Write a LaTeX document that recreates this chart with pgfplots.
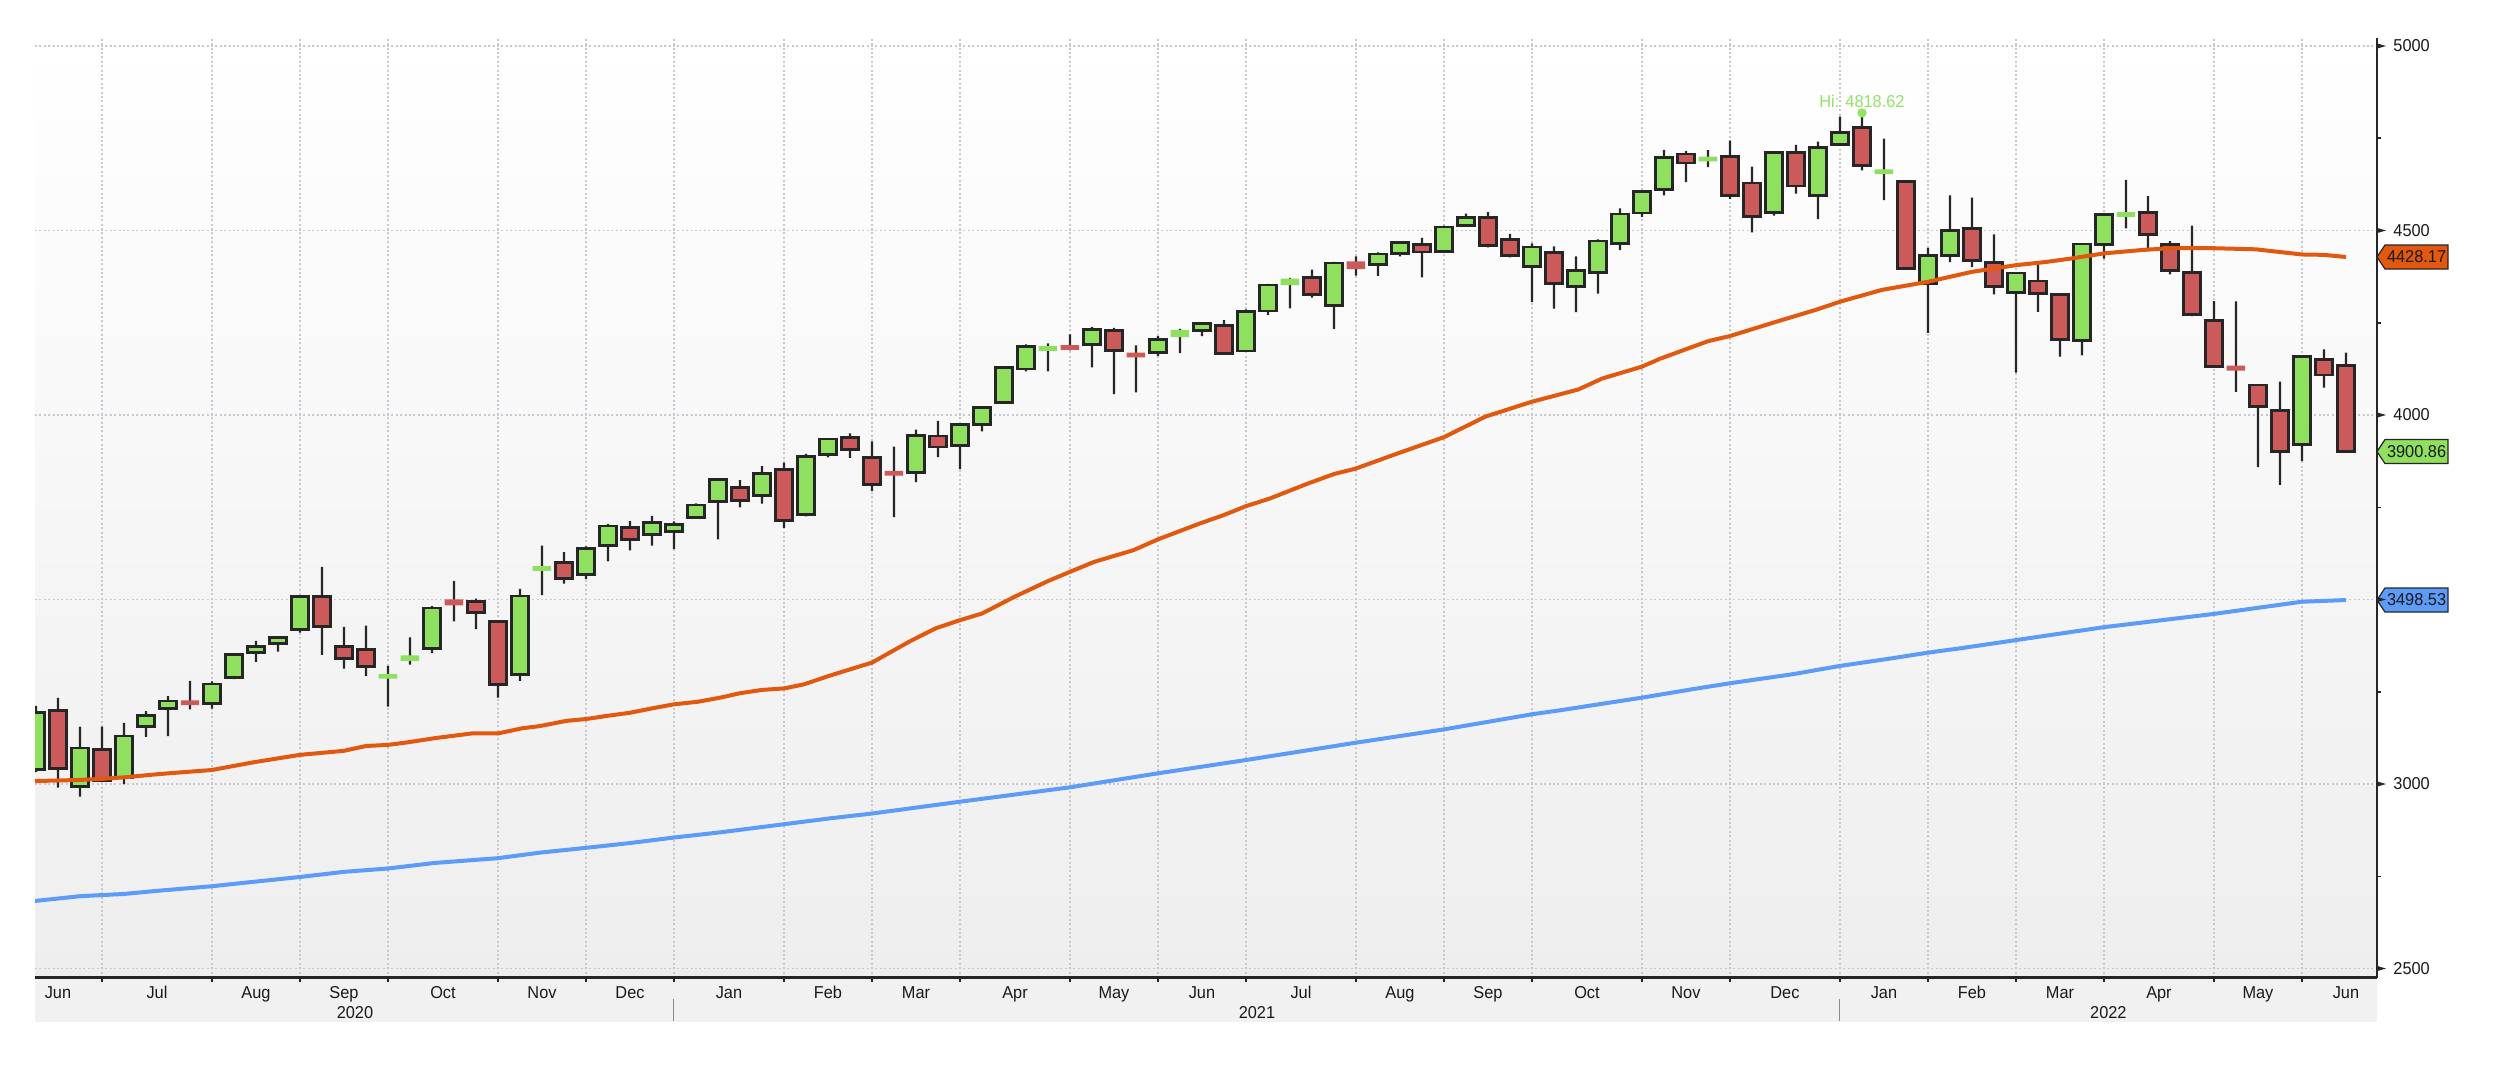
\documentclass[border=0pt]{standalone}
\usepackage{pgfplots}
\pgfplotsset{compat=1.18}
\usepackage{pgfplotstable}
\usepackage{fontspec}
\setmainfont{Liberation Sans}
\newfontfamily\lblfont{Liberation Sans}[FakeStretch=0.95]
\newcommand\lbl{\lblfont\fontsize{8.6pt}{10pt}\selectfont}

\definecolor{upc}{RGB}{142,224,94}
\definecolor{dnc}{RGB}{205,90,90}
\definecolor{olc}{RGB}{38,38,38}
\definecolor{maA}{RGB}{226,88,14}
\definecolor{maB}{RGB}{92,156,248}
\definecolor{gridc}{RGB}{198,200,212}
\definecolor{bgbot}{RGB}{238,238,238}
\definecolor{strip}{RGB}{241,241,241}
\definecolor{txt}{RGB}{25,25,25}
\definecolor{hic}{RGB}{146,226,100}

\pgfdeclareplotmark{rtri}{%
  \pgfpathmoveto{\pgfpoint{0pt}{1.3pt}}%
  \pgfpathlineto{\pgfpoint{4.5pt}{0pt}}%
  \pgfpathlineto{\pgfpoint{0pt}{-1.3pt}}%
  \pgfpathclose\pgfusepathqfill}

\tikzset{vbox/.style={draw=black!85, line width=0.6pt}}

% weekly candles: i O H L C type (1 up box, 2 down box, 3 up doji, 4 down doji)
\pgfplotstableread{
i O H L C t
0 3038.78 3211.72 3032.00 3193.93 1
1 3199.92 3233.13 2990.00 3041.31 2
2 2993.76 3155.53 2965.66 3097.74 1
3 3094.42 3155.29 3007.41 3009.05 2
4 3018.59 3165.81 2999.74 3130.01 1
5 3155.29 3197.52 3127.66 3185.04 1
6 3205.08 3238.28 3130.00 3224.73 1
7 3224.21 3279.32 3202.00 3215.63 4
8 3218.58 3278.00 3204.00 3271.12 1
9 3288.26 3352.54 3284.53 3351.28 1
10 3356.04 3387.89 3331.00 3372.85 1
11 3380.86 3399.96 3359.00 3397.16 1
12 3418.09 3509.44 3410.00 3508.01 1
13 3507.44 3588.11 3349.63 3426.96 2
14 3371.88 3425.55 3313.00 3340.97 2
15 3363.56 3428.92 3292.40 3319.47 2
16 3285.57 3320.31 3209.45 3298.46 3
17 3333.90 3397.18 3323.69 3348.44 3
18 3367.27 3482.34 3354.69 3477.14 1
19 3500.02 3549.85 3440.45 3483.81 4
20 3493.50 3502.42 3419.93 3465.39 2
21 3441.42 3441.42 3233.94 3269.96 2
22 3296.20 3529.05 3279.74 3509.44 1
23 3583.04 3645.99 3511.91 3585.15 3
24 3600.16 3628.51 3543.00 3557.54 2
25 3566.82 3644.31 3555.00 3638.35 1
26 3645.87 3705.00 3603.00 3699.12 1
27 3694.73 3712.39 3633.40 3663.46 2
28 3675.27 3726.70 3645.84 3709.41 1
29 3684.28 3712.00 3636.48 3703.06 1
30 3723.03 3760.20 3720.00 3756.07 1
31 3764.61 3826.69 3662.71 3824.68 1
32 3803.14 3823.60 3749.63 3768.25 2
33 3781.88 3861.45 3760.00 3841.47 1
34 3851.68 3870.90 3694.12 3714.24 2
35 3731.17 3894.56 3725.00 3886.83 1
36 3892.59 3937.23 3884.94 3934.83 1
37 3939.61 3950.43 3884.06 3906.71 2
38 3885.55 3928.65 3794.00 3811.15 2
39 3842.51 3914.50 3723.34 3841.94 4
40 3844.39 3960.27 3818.00 3943.34 1
41 3942.96 3983.87 3886.00 3913.10 2
42 3916.48 3978.19 3853.50 3974.54 1
43 3974.00 4020.63 3955.31 4019.87 1
44 4034.44 4129.48 4034.00 4128.80 1
45 4124.71 4191.31 4118.00 4185.47 1
46 4179.80 4194.17 4118.38 4180.17 3
47 4185.14 4218.78 4175.00 4181.17 4
48 4191.98 4238.04 4129.00 4232.60 1
49 4228.29 4236.39 4056.88 4173.85 2
50 4169.14 4188.72 4061.41 4155.86 4
51 4168.61 4213.42 4160.00 4204.11 1
52 4210.77 4233.45 4167.59 4229.89 3
53 4229.34 4249.74 4214.00 4247.44 1
54 4242.90 4257.16 4164.40 4166.45 2
55 4173.40 4286.12 4173.00 4280.70 1
56 4282.00 4355.43 4271.00 4352.34 1
57 4352.00 4371.60 4289.00 4369.55 3
58 4372.41 4393.68 4318.00 4327.16 2
59 4296.40 4415.18 4233.13 4411.79 1
60 4416.38 4429.97 4378.00 4395.26 4
61 4406.86 4440.82 4377.00 4436.52 1
62 4437.77 4468.73 4430.00 4468.00 1
63 4461.65 4479.71 4373.00 4441.67 2
64 4442.00 4513.00 4440.00 4509.37 1
65 4513.76 4545.85 4513.00 4535.43 1
66 4535.38 4549.78 4454.00 4458.58 2
67 4474.81 4491.00 4427.00 4432.99 2
68 4402.95 4465.40 4305.91 4455.48 1
69 4440.39 4457.30 4288.52 4357.04 2
70 4348.84 4429.97 4278.94 4391.34 1
71 4385.44 4475.82 4329.00 4471.37 1
72 4463.72 4559.67 4447.00 4544.90 1
73 4547.44 4608.08 4537.00 4605.38 1
74 4610.62 4718.50 4595.06 4697.53 1
75 4707.25 4714.92 4630.86 4682.85 2
76 4689.30 4717.75 4672.00 4697.96 3
77 4700.72 4743.83 4585.43 4594.62 2
78 4628.75 4672.95 4495.12 4538.43 2
79 4548.37 4713.57 4540.00 4712.02 1
80 4710.30 4731.99 4600.22 4620.64 2
81 4594.00 4740.74 4531.10 4725.79 1
82 4733.99 4808.93 4733.00 4766.18 1
83 4778.14 4818.62 4662.74 4677.03 2
84 4655.34 4748.83 4582.24 4662.85 3
85 4632.24 4632.24 4395.34 4397.94 2
86 4356.32 4453.23 4222.62 4431.85 1
87 4431.79 4595.31 4414.00 4500.53 1
88 4505.75 4588.92 4401.00 4418.64 2
89 4412.61 4489.55 4327.22 4348.87 2
90 4332.74 4385.00 4114.65 4384.65 1
91 4363.14 4416.78 4279.54 4328.87 2
92 4327.01 4327.01 4157.87 4204.31 2
93 4202.75 4465.40 4161.72 4463.12 1
94 4462.40 4546.03 4424.00 4543.06 1
95 4540.32 4637.30 4506.00 4545.86 3
96 4547.97 4593.45 4450.04 4488.28 2
97 4462.64 4471.00 4381.34 4392.59 2
98 4385.63 4512.94 4267.62 4271.78 2
99 4255.34 4308.45 4128.00 4131.93 2
100 4130.61 4307.66 4062.51 4123.34 4
101 4081.27 4081.27 3858.87 4023.89 2
102 4013.02 4090.72 3810.32 3901.36 2
103 3919.42 4158.49 3875.13 4158.24 1
104 4151.09 4177.51 4074.37 4108.54 2
105 4134.72 4168.78 3900.16 3900.86 2
}\candles

% 50-week moving average
\pgfplotstableread{
x y
-0.05 3008
2 3011
3 3014
4 3018
5.6 3027
8 3038
9.9 3059
12 3079
14 3090
15 3103
16 3106
16.9 3113
18.1 3124
19.8 3137
21 3137
22.1 3151
22.9 3157
24.1 3171
25 3176
26 3185
27 3193
28 3205
29 3216
30.1 3223
31.1 3234
32 3246
33 3255
34 3259
34.9 3270
36.1 3294
38 3329
39.7 3386
40.9 3422
42 3444
43 3462
44.5 3508
46 3550
47 3575
48.1 3602
49.9 3634
51 3663
52.9 3706
54 3729
55 3753
56.1 3774
57.8 3814
59 3840
60 3855
61.9 3896
64 3940
65.9 3996
68 4036
70.1 4069
71.2 4099
73 4131
73.8 4152
76 4200
77 4214
78.9 4249
80.9 4285
82 4307
83.9 4339
86 4361
88 4388
90 4406
91.4 4415
92.5 4424
94 4438
95.7 4447
97 4452
99 4452
100.9 4449
103 4435
104 4434
105 4428.17
}\maFifty

% 200-week moving average
\pgfplotstableread{
x y
-0.05 2683
2 2696
4 2702
5.6 2711
8 2723
9.9 2735
12 2748
14 2762
16 2771
18.1 2786
21 2799
22.9 2814
25 2827
27 2840
29 2855
31.1 2869
34 2891
36.1 2907
38 2920
42 2952
47 2991
51 3029
55 3065
60 3112
64 3148
68 3189
69.3 3200
73 3234
75.3 3257
77 3273
79.9 3298
82 3320
84.4 3341
86 3356
87.5 3368
90 3390
94 3425
99 3461
103 3494
105 3498.53
}\maTwoHundred

\pgfplotsset{
  base/.style={at={(17.5pt,57pt)}, anchor=south west, scale only axis,
    width=1171pt, height=470pt,
    xmin=-0.045, xmax=106.41, ymin=2474.3, ymax=5021.7, enlargelimits=false},
  over/.style={base, hide axis},
}

\begin{document}
\begin{tikzpicture}
\fill[white] (0,0) rectangle (1250pt,546pt);
\shade[top color=white, bottom color=bgbot] (17.5pt,57pt) rectangle (1188.5pt,527pt);
\fill[strip] (17.5pt,35pt) rectangle (1188.5pt,57pt);

% ---- main axis: grid, ticks, labels
\begin{axis}[base, clip=false,
  axis x line*=bottom, axis y line*=right,
  x axis line style={-, line width=1.5pt, draw=olc},
  y axis line style={-, line width=0.75pt, draw=olc},
  xtick={3,8,12,16,21,25,29,34,38,42,47,51,55,60,64,68,73,77,82,86,90,94,99,103},
  xticklabels={},
  ytick={2500,3000,3500,4000,4500,5000},
  yticklabels={2500,3000,,4000,4500,5000},
  minor ytick={2750,3250,3750,4250,4750},
  tick align=outside, major tick length=2pt, minor tick length=2pt,
  tick style={draw=olc, line width=0.75pt},
  yticklabel style={font=\lbl, text=txt, anchor=west, xshift=2.7pt},
  grid=major,
  major grid style={draw=gridc, line width=0.75pt, dash pattern=on 1pt off 1.2pt},
  extra x ticks={1,5.5,10,14,18.5,23,27,31.5,36,40,44.5,49,53,57.5,62,66,70.5,75,79.5,84,88,92,96.5,101,105},
  extra x tick labels={Jun,Jul,Aug,Sep,Oct,Nov,Dec,Jan,Feb,Mar,Apr,May,Jun,Jul,Aug,Sep,Oct,Nov,Dec,Jan,Feb,Mar,Apr,May,Jun},
  extra x tick style={major tick length=0pt, grid=none,
     tick label style={font=\lbl, text=txt, anchor=base, yshift=-10pt}},
]
\addplot[only marks, mark=rtri, olc] coordinates {(106.41,2500) (106.41,3000) (106.41,3500) (106.41,4000) (106.41,4500) (106.41,5000)};

\node[font=\lbl, text=txt, anchor=base] at ([yshift=-20pt]axis cs:14.5,2474.3) {2020};
\node[font=\lbl, text=txt, anchor=base] at ([yshift=-20pt]axis cs:55.5,2474.3) {2021};
\node[font=\lbl, text=txt, anchor=base] at ([yshift=-20pt]axis cs:94.2,2474.3) {2022};
\draw[black!45, line width=0.5pt] ([yshift=-10.5pt]axis cs:29,2474.3) -- ([yshift=-21.5pt]axis cs:29,2474.3);
\draw[black!45, line width=0.5pt] ([yshift=-10.5pt]axis cs:82,2474.3) -- ([yshift=-21.5pt]axis cs:82,2474.3);

% last-value boxes
\draw[vbox, fill=maA] (axis cs:106.41,4428.17) -- ++(4pt,6pt) -- ++(31.5pt,0pt) -- ++(0pt,-12pt) -- ++(-31.5pt,0pt) -- cycle;
\node[font=\lbl, text=txt] at ([xshift=19.8pt]axis cs:106.41,4428.17) {4428.17};
\draw[vbox, fill=upc] (axis cs:106.41,3900.86) -- ++(4pt,6pt) -- ++(31.5pt,0pt) -- ++(0pt,-12pt) -- ++(-31.5pt,0pt) -- cycle;
\node[font=\lbl, text=txt] at ([xshift=19.8pt]axis cs:106.41,3900.86) {3900.86};
\draw[vbox, fill=maB] (axis cs:106.41,3498.53) -- ++(4pt,6pt) -- ++(31.5pt,0pt) -- ++(0pt,-12pt) -- ++(-31.5pt,0pt) -- cycle;
\node[font=\lbl, text=txt] at ([xshift=19.8pt]axis cs:106.41,3498.53) {3498.53};

\node[font=\lbl, text=hic, anchor=base] at (axis cs:83,4832) {Hi: 4818.62};
\end{axis}

% ---- wicks
\begin{axis}[over, ybar stacked, bar width=1.2pt]
\addplot[draw=none, fill=none] table[x=i, y=L] {\candles};
\addplot[draw=none, fill=olc] table[x=i, y expr={\thisrow{H}-\thisrow{L}}] {\candles};
\end{axis}

% ---- outlined bodies
\begin{axis}[over, ybar stacked, bar width=0.8]
\addplot[draw=none, fill=none] table[x=i, y expr={\thisrow{t}<2.5 ? min(\thisrow{O},\thisrow{C}) : 0}] {\candles};
\addplot[draw=olc, line width=1.4pt, fill=upc] table[x=i, y expr={\thisrow{t}==1 ? abs(\thisrow{C}-\thisrow{O}) : 0}] {\candles};
\addplot[draw=olc, line width=1.4pt, fill=dnc] table[x=i, y expr={\thisrow{t}==2 ? abs(\thisrow{C}-\thisrow{O}) : 0}] {\candles};
\end{axis}

% ---- doji dashes
\begin{axis}[over, ybar stacked, bar width=0.84]
\addplot[draw=none, fill=none] table[x=i, y expr={\thisrow{t}>2.5 ? 0.5*(\thisrow{O}+\thisrow{C})-0.5*max(abs(\thisrow{C}-\thisrow{O}),13) : 0}] {\candles};
\addplot[draw=none, fill=upc] table[x=i, y expr={\thisrow{t}==3 ? max(abs(\thisrow{C}-\thisrow{O}),13) : 0}] {\candles};
\addplot[draw=none, fill=dnc] table[x=i, y expr={\thisrow{t}==4 ? max(abs(\thisrow{C}-\thisrow{O}),13) : 0}] {\candles};
\end{axis}

% ---- moving averages and high marker
\begin{axis}[over]
\addplot[maB, line width=2pt, line join=round] table[x=x, y=y] {\maTwoHundred};
\addplot[maA, line width=2pt, line join=round] table[x=x, y=y] {\maFifty};
\addplot[only marks, mark=*, mark size=2.1pt, hic] coordinates {(83,4818.62)};
\end{axis}

\pgfresetboundingbox
\useasboundingbox (0,0) rectangle (1250pt,546pt);
\end{tikzpicture}
\end{document}
